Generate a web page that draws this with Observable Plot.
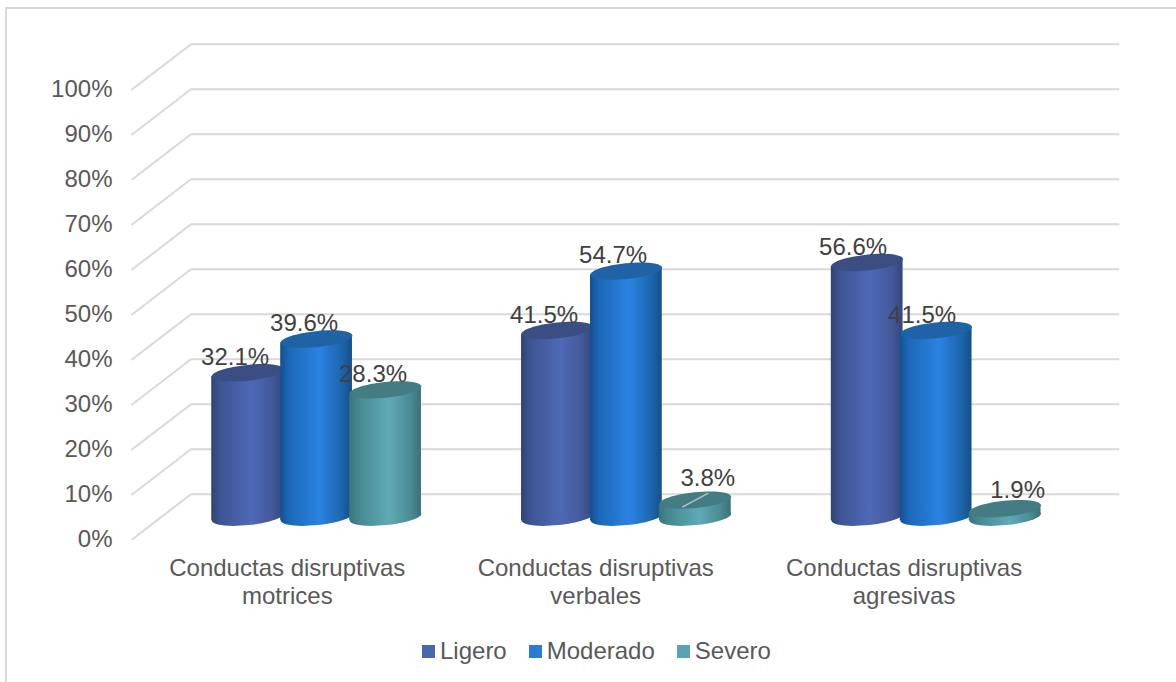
<!DOCTYPE html>
<html><head><meta charset="utf-8">
<script src="https://cdn.jsdelivr.net/npm/d3@7"></script>
<script src="https://cdn.jsdelivr.net/npm/@observablehq/plot@0.6"></script>
<style>
html,body{margin:0;padding:0;background:#fff;}
#page{position:relative;width:1176px;height:682px;overflow:hidden;font-family:"Liberation Sans",Arial,sans-serif;}
#frame{position:absolute;left:5px;top:7px;width:1180px;height:700px;border:2px solid #d9d9d9;box-sizing:border-box;}
#chart{position:absolute;left:0;top:0;}
#legend{position:absolute;left:422px;top:636px;height:30px;display:flex;align-items:center;font-size:24px;color:#595959;line-height:30px;}
#legend i{display:inline-block;width:13px;height:13px;margin-right:5px;}
#legend span{display:inline-flex;align-items:center;}
</style></head>
<body><div id="page"><div id="frame"></div><div id="chart"></div><div id="legend"></div></div>
<script>
const categories = ["Conductas disruptivas\nmotrices","Conductas disruptivas\nverbales","Conductas disruptivas\nagresivas"];
const seriesNames = ["Ligero","Moderado","Severo"];
const ligero = [32.1,41.5,56.6];
const moderado = [39.6,54.7,41.5];
const severo = [28.3,3.8,1.9];
const yTicks = [0,10,20,30,40,50,60,70,80,90,100];

// layout constants (scale units)
const unitPx = 309.33, pxPerPct = 4.5;
const depthY = 10.05, frontX = -59/unitPx;
const baseY = 4.95, groupOffset = 0.4062, groupStep = 1.002, barStep = 69/unitPx, halfW = 35.9/unitPx, tilt = 3.6/pxPerPct;
const seriesValues = [ligero,moderado,severo];
const legendColors = ["#4a66ac","#2a7bd8","#5ba3ae"];
const topColors = ["#3a4e84","#1f63a6","#447c84"];
const stops = [
 [["0%","#2f4272"],["12%","#3d5492"],["55%","#4e69b6"],["85%","#42589a"],["100%","#34477a"]],
 [["0%","#134f8e"],["12%","#1b68b8"],["55%","#2b83e2"],["85%","#1c66ae"],["100%","#154f88"]],
 [["0%","#3a757b"],["12%","#46878f"],["55%","#5faab6"],["85%","#4b8c96"],["100%","#3c6f76"]]
];

const ellipse = {draw(c){
  const rx=36, ry=7.9, t=-5.8*Math.PI/180, k=0.5523, cos=Math.cos(t), sin=Math.sin(t);
  const P=(x,y)=>[x*cos-y*sin, x*sin+y*cos];
  const b=(a,d,e)=>c.bezierCurveTo(...P(...a),...P(...d),...P(...e));
  c.moveTo(...P(rx,0));
  b([rx,k*ry],[k*rx,ry],[0,ry]);
  b([-k*rx,ry],[-rx,k*ry],[-rx,0]);
  b([-rx,-k*ry],[-k*rx,-ry],[0,-ry]);
  b([k*rx,-ry],[rx,-k*ry],[rx,0]);
  c.closePath();
}};

const gridRows = yTicks.flatMap(t=>[
  {t,x:frontX,y:t},{t,x:0,y:t+depthY},{t,x:3,y:t+depthY}
]);

const bars = seriesValues.map((vals,s)=>vals.map((v,g)=>({
  v,s,g,c:g*groupStep+groupOffset+(s-1)*barStep
})));
const sides = bars.map(b=>b.flatMap(d=>[
  {id:d.g,x:d.c-halfW,y1:baseY-tilt,y2:baseY+d.v-tilt},
  {id:d.g,x:d.c+halfW,y1:baseY+tilt,y2:baseY+d.v+tilt}
]));
const labels = bars.flat().map(d=>{
  const small = d.v<10;
  const ox = small?12.5:(d.s===2?-12.5:-12.5-d.g*0.8), oy = d.v<3?18.5:small?22:15.5;
  return {...d, lx:d.c+ox/unitPx, ly:baseY+d.v+oy/pxPerPct};
});
const leader = labels.filter(d=>d.v>2 && d.v<10);

const cylinderMarks = bars.flatMap((b,s)=>[
  Plot.dot(b,{x:"c",y:()=>baseY,symbol:ellipse,fill:`url(#g${s})`,stroke:"none"}),
  Plot.area(sides[s],{x1:"x",y1:"y1",y2:"y2",z:"id",fill:`url(#g${s})`,stroke:"none",curve:"linear"}),
  Plot.dot(b,{x:"c",y:d=>baseY+d.v,symbol:ellipse,fill:topColors[s],stroke:"none"})
]);

const defs = () => {
  const el = d3.create("svg:defs");
  stops.forEach((st,i)=>{
    const g = el.append("linearGradient").attr("id","g"+i).attr("x1","0%").attr("x2","100%").attr("y1","0%").attr("y2","0%");
    st.forEach(([o,c])=>g.append("stop").attr("offset",o).attr("stop-color",c));
  });
  return el.node();
};

const chart = Plot.plot({
  width:1176,height:628,
  marginLeft:116,marginRight:0,marginTop:0,marginBottom:0,
  style:{background:"transparent",fontFamily:"'Liberation Sans',Arial,sans-serif",fontSize:"24px",overflow:"visible"},
  x:{domain:[0,3],range:[190.5,1118],axis:null},
  y:{domain:[0,100],range:[539,89],axis:null},
  marks:[
    defs,
    Plot.line(gridRows,{x:"x",y:"y",z:"t",stroke:"#d9d9d9",strokeWidth:2,curve:"linear"}),
    ...cylinderMarks,
    Plot.link(leader,{x1:d=>d.c-13/unitPx,y1:d=>baseY+d.v-1.55,x2:d=>d.c+13/unitPx,y2:d=>baseY+d.v+1.55,stroke:"#bfbfbf",strokeWidth:1.5}),
    Plot.axisY({ticks:yTicks,tickSize:0,tickPadding:4,anchor:"left",label:null,tickFormat:d=>d+"%",fill:"#595959",fontSize:24}),
    Plot.text(categories,{x:(d,i)=>i*0.9975+0.3115,y:()=>-9.3,text:d=>d,fill:"#595959",fontSize:24,lineHeight:1.17}),
    Plot.text(labels,{x:"lx",y:"ly",text:d=>d.v.toFixed(1)+"%",fill:"#404040",fontSize:24})
  ]
});
document.getElementById("chart").appendChild(chart);

const legend = document.getElementById("legend");
const gaps=[22,22,0];
seriesNames.forEach((n,i)=>{
  const s=document.createElement("span");
  s.style.marginRight=gaps[i]+"px";
  s.innerHTML=`<i style="background:${legendColors[i]}"></i>${n}`;
  legend.appendChild(s);
});
</script></body></html>
